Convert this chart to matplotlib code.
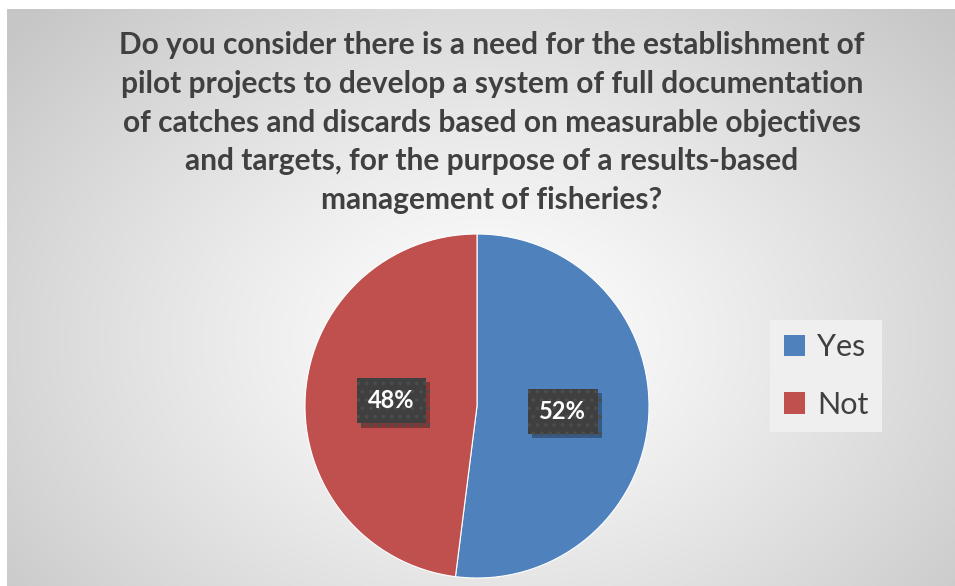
import numpy as np
import matplotlib.pyplot as plt
from matplotlib.patches import Patch
import matplotlib.patheffects as pe

plt.rcParams['font.family'] = ['Lato', 'DejaVu Sans']
plt.rcParams['hatch.linewidth'] = 1.5

# Survey answers
labels = ['Yes', 'Not']
shares = [52, 48]
colors = ['#4F81BD', '#C0504D']
title = ('Do you consider there is a need for the establishment of\n'
         'pilot projects to develop a system of full documentation\n'
         'of catches and discards based on measurable objectives\n'
         'and targets, for the purpose of a results-based\n'
         'management of fisheries?')

W, H = 955, 586
fig = plt.figure(figsize=(W / 100, H / 100), dpi=100)
fig.patch.set_facecolor('white')

# radial grey background of the chart area
bg = fig.add_axes([7 / W, 0, 1 - 7 / W, 1 - 9 / H])
yy, xx = np.mgrid[0:H - 9, 0:W - 7]
cx, cy = 480, 330
d = np.hypot((xx - cx) / 620, (yy - cy) / 470)
shade = 1 - 0.22 * np.clip(d, 0, 1) ** 1.2
bg.imshow(np.dstack([shade] * 3), aspect='auto', extent=(0, 1, 0, 1), origin='upper')
bg.axis('off')

fig.text(492 / W, 1 - 31 / H, title, ha='center', va='top', fontsize=21.5,
         fontweight='bold', color='#404040', linespacing=1.47)

# pie
r = 172
pcx, pcy = 477, 406
ax = fig.add_axes([(pcx - r) / W, (H - pcy - r) / H, 2 * r / W, 2 * r / H])
wedges, texts, autotexts = ax.pie(shares, colors=colors, startangle=90, counterclock=False,
                                  autopct='%d%%', pctdistance=0.5,
                                  wedgeprops=dict(linewidth=0.8, edgecolor='white'),
                                  textprops=dict(color='white', fontsize=17, fontweight='bold'))
ax.set_xlim(-1, 1)
ax.set_ylim(-1, 1)
ax.set_aspect('equal')
for t in autotexts:
    t.set_bbox(dict(boxstyle='square,pad=0.48', facecolor='#3f3f3f', edgecolor='#4c4c4c',
                    hatch='..', linewidth=0))
    t.get_bbox_patch().set_path_effects([pe.SimplePatchShadow(offset=(3, -3), alpha=0.3,
                                                              shadow_rgbFace='black'),
                                         pe.Normal()])

handles = [Patch(facecolor=c, edgecolor='none') for c in colors]
leg = fig.legend(handles, labels, loc='center left', bbox_to_anchor=(770 / W, (H - 376) / H),
                 fontsize=22, frameon=True, facecolor='#efefef', edgecolor='none',
                 fancybox=False, framealpha=1, labelspacing=0.95, handlelength=0.7,
                 handleheight=0.7, handletextpad=0.4, borderpad=0.45, borderaxespad=0)
for t in leg.get_texts():
    t.set_color('#404040')

fig.savefig('out.png', dpi=100)
